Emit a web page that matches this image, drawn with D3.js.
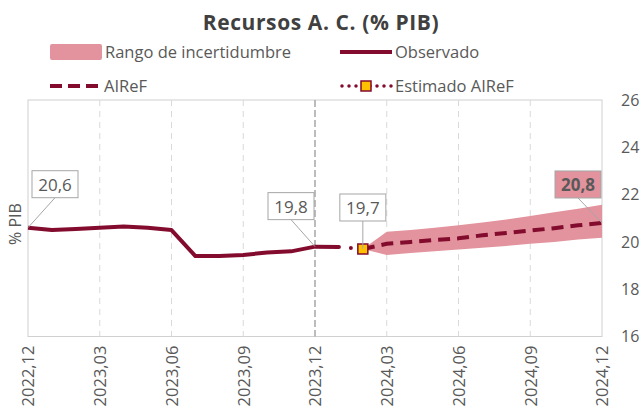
<!DOCTYPE html>
<html>
<head>
<meta charset="utf-8">
<script src="https://cdn.jsdelivr.net/npm/d3@7"></script>
<style>
  body { margin: 0; background: #fff; }
  text { font-family: "Open Sans", Lato, sans-serif; }
</style>
</head>
<body>
<svg width="640" height="411"></svg>
<script>
// months shown on the x axis
var months = ["2022,12","2023,01","2023,02","2023,03","2023,04","2023,05","2023,06","2023,07","2023,08","2023,09","2023,10","2023,11","2023,12",
              "2024,01","2024,02","2024,03","2024,04","2024,05","2024,06","2024,07","2024,08","2024,09","2024,10","2024,11","2024,12"];
var tickMonths = ["2022,12","2023,03","2023,06","2023,09","2023,12","2024,03","2024,06","2024,09","2024,12"];
var yTicks = [16, 18, 20, 22, 24, 26];

// observed series 2022,12 .. 2024,01
var observado = [20.6, 20.5, 20.55, 20.6, 20.65, 20.6, 20.5, 19.4, 19.4, 19.45, 19.55, 19.6, 19.8, 19.78];
// estimated point (2024,01 -> 2024,02)
var estimadoMonths = ["2024,01", "2024,02"];
var estimado = [19.78, 19.7];
// AIReF forecast 2024,02 .. 2024,12
var airefMonths = months.slice(14);
var airef = [19.7, 19.92, 20.0, 20.08, 20.15, 20.28, 20.38, 20.48, 20.58, 20.7, 20.8];
var bandHigh = [19.7, 20.43, 20.5, 20.6, 20.7, 20.82, 20.95, 21.1, 21.25, 21.4, 21.57];
var bandLow = [19.7, 19.45, 19.53, 19.6, 19.68, 19.75, 19.83, 19.92, 20.0, 20.1, 20.18];

var dark = "#830b2e", pink = "#e2939d", grey = "#595959";

var svg = d3.select("svg");
var pLeft = 28, pRight = 602, pTop = 100, pBottom = 336.5;

var x = d3.scalePoint().domain(months).range([pLeft, pRight]);
var y = d3.scaleLinear().domain([16, 26]).range([pBottom, pTop]);

/* ----------- title ----------- */
svg.append("text")
    .attr("x", 321).attr("y", 30)
    .attr("text-anchor", "middle")
    .attr("font-size", 21).attr("font-weight", "bold")
    .attr("letter-spacing", 0.6)
    .attr("fill", "#404040")
    .text("Recursos A. C. (% PIB)");

/* ----------- legend ----------- */
var lg = svg.append("g").attr("font-size", 16.5).attr("fill", grey);
lg.append("rect").attr("x", 50).attr("y", 44).attr("width", 52).attr("height", 16).attr("rx", 2).attr("fill", pink);
lg.append("text").attr("x", 105).attr("y", 58).text("Rango de incertidumbre");
lg.append("line").attr("x1", 340).attr("x2", 392).attr("y1", 52).attr("y2", 52).attr("stroke", dark).attr("stroke-width", 4);
lg.append("text").attr("x", 395).attr("y", 58).text("Observado");
lg.append("line").attr("x1", 50).attr("x2", 98).attr("y1", 86).attr("y2", 86).attr("stroke", dark).attr("stroke-width", 4).attr("stroke-dasharray", "12,6");
lg.append("text").attr("x", 104).attr("y", 92).text("AIReF");
lg.append("line").attr("x1", 342).attr("x2", 392).attr("y1", 86).attr("y2", 86).attr("stroke", dark).attr("stroke-width", 3.5)
    .attr("stroke-linecap", "round").attr("stroke-dasharray", "0,7");
lg.append("rect").attr("x", 361).attr("y", 81).attr("width", 10).attr("height", 10).attr("fill", "#ffc000").attr("stroke", dark).attr("stroke-width", 1.5);
lg.append("text").attr("x", 395).attr("y", 92).text("Estimado AIReF");

/* ----------- frame & grid ----------- */
svg.append("rect").attr("x", pLeft).attr("y", pTop).attr("width", pRight - pLeft).attr("height", pBottom - pTop)
    .attr("fill", "none").attr("stroke", "#d0d0d0").attr("stroke-width", 1);

svg.selectAll("line.grid").data(tickMonths.slice(1, -1)).enter().append("line")
    .attr("class", "grid")
    .attr("x1", d => x(d)).attr("x2", d => x(d))
    .attr("y1", pTop).attr("y2", pBottom)
    .attr("stroke", d => d === "2023,12" ? "#a6a6a6" : "#d9d9d9")
    .attr("stroke-width", d => d === "2023,12" ? 1.5 : 1)
    .attr("stroke-dasharray", d => d === "2023,12" ? "7,3" : "6,5");

/* ----------- axes ----------- */
var yAxis = svg.append("g").attr("transform", "translate(621,0)")
    .call(d3.axisRight(y).tickValues(yTicks).tickSize(0).tickPadding(0));
yAxis.select(".domain").remove();
yAxis.selectAll("text").attr("font-size", 16).attr("fill", grey).attr("font-family", "'Open Sans', sans-serif");

var xAxis = svg.append("g").attr("transform", "translate(0," + pBottom + ")")
    .call(d3.axisBottom(x).tickValues(tickMonths).tickSize(0));
xAxis.select(".domain").remove();
xAxis.selectAll("text")
    .attr("font-size", 16.5).attr("fill", grey).attr("font-family", "'Open Sans', sans-serif")
    .attr("transform", "rotate(-90)")
    .attr("text-anchor", "end")
    .attr("x", -9).attr("y", 0).attr("dy", "0.35em");

svg.append("text")
    .attr("transform", "translate(21,224) rotate(-90)")
    .attr("text-anchor", "middle")
    .attr("font-size", 16).attr("fill", grey)
    .text("% PIB");

/* ----------- band ----------- */
var area = d3.area()
    .x((d, i) => x(airefMonths[i]))
    .y0((d, i) => y(bandLow[i]))
    .y1((d, i) => y(bandHigh[i]));
svg.append("path").datum(bandHigh).attr("d", area).attr("fill", pink);

/* ----------- lines ----------- */
var line = d3.line().x(d => x(d[0])).y(d => y(d[1]));

svg.append("path")
    .datum(observado.map((v, i) => [months[i], v]))
    .attr("d", line).attr("fill", "none")
    .attr("stroke", dark).attr("stroke-width", 4).attr("stroke-linejoin", "round");

svg.append("path")
    .datum(estimado.map((v, i) => [estimadoMonths[i], v]))
    .attr("d", line).attr("fill", "none")
    .attr("stroke", dark).attr("stroke-width", 4).attr("stroke-linecap", "round")
    .attr("stroke-dasharray", "0,12");

svg.append("path")
    .datum(airef.map((v, i) => [airefMonths[i], v]))
    .attr("d", line).attr("fill", "none")
    .attr("stroke", dark).attr("stroke-width", 4).attr("stroke-dasharray", "12,7");

svg.append("rect")
    .attr("x", x("2024,02") - 5).attr("y", y(19.7) - 5)
    .attr("width", 10).attr("height", 10)
    .attr("fill", "#ffc000").attr("stroke", dark).attr("stroke-width", 1.5);

/* ----------- data labels ----------- */
var labels = [
  { m: "2022,12", v: observado[0], text: "20,6", dx: 27, dy: -43 },
  { m: "2023,12", v: observado[12], text: "19,8", dx: -24, dy: -40 },
  { m: "2024,02", v: estimado[1], text: "19,7", dx: 0, dy: -41 },
  { m: "2024,12", v: airef[airef.length - 1], text: "20,8", dx: -24, dy: -38, hl: true }
];
var lab = svg.selectAll("g.lab").data(labels).enter().append("g").attr("class", "lab");
lab.append("line")
    .attr("x1", d => x(d.m)).attr("y1", d => y(d.v))
    .attr("x2", d => x(d.m) + d.dx).attr("y2", d => y(d.v) + d.dy + 13)
    .attr("stroke", "#a6a6a6").attr("stroke-width", 1);
lab.append("rect")
    .attr("x", d => x(d.m) + d.dx - 23).attr("y", d => y(d.v) + d.dy - 14)
    .attr("width", 46).attr("height", 27)
    .attr("fill", d => d.hl ? pink : "#fff")
    .attr("stroke", "#a6a6a6").attr("stroke-width", 1);
lab.append("text")
    .attr("x", d => x(d.m) + d.dx).attr("y", d => y(d.v) + d.dy + 6)
    .attr("text-anchor", "middle")
    .attr("font-size", 17)
    .attr("font-weight", d => d.hl ? "bold" : "normal")
    .attr("fill", grey)
    .text(d => d.text);
</script>
</body>
</html>
